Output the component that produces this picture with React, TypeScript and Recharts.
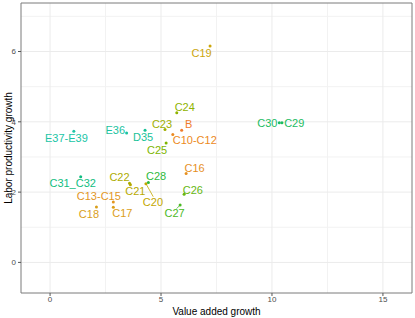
import React from 'react';
import { ScatterChart, Scatter, XAxis, YAxis, CartesianGrid, ReferenceArea, Label } from 'recharts';

// industries (NACE codes) with growth rates
const SECTORS = ['B', 'C10-C12', 'C13-C15', 'C16', 'C17', 'C18', 'C19', 'C20', 'C21', 'C22', 'C23', 'C24', 'C25', 'C26', 'C27', 'C28', 'C29', 'C30', 'C31_C32', 'D35', 'E36', 'E37-E39'];
const VALUE_ADDED = [5.93, 5.53, 2.85, 6.13, 2.85, 2.09, 7.21, 4.32, 3.62, 3.58, 5.18, 5.71, 5.23, 6.04, 5.86, 4.43, 10.45, 10.33, 1.38, 4.28, 3.45, 1.07];
const PRODUCTIVITY = [3.76, 3.64, 1.72, 2.53, 1.57, 1.58, 6.16, 2.24, 2.21, 2.25, 3.78, 4.26, 3.40, 1.94, 1.63, 2.27, 3.97, 3.97, 2.44, 3.76, 3.68, 3.73];

const X_TICKS = [0, 5, 10, 15];
const Y_TICKS = [0, 2, 4, 6];
const X_MINOR = [2.5, 7.5, 12.5];
const Y_MINOR = [1, 3, 5, 7];
const X_DOMAIN: [number, number] = [-1.31, 16.31];
const Y_DOMAIN: [number, number] = [-0.87, 7.38];

// hue per sector
const COLORS: Record<string, string> = {
  'B': '#F07C2C',
  'C10-C12': '#EC8A22',
  'C13-C15': '#E2961E',
  'C16': '#E6901F',
  'C17': '#DC9E18',
  'C18': '#D99E1A',
  'C19': '#CCA60C',
  'C20': '#C3A700',
  'C21': '#B8A900',
  'C22': '#ADAC00',
  'C23': '#A0AF00',
  'C24': '#8FB300',
  'C25': '#7DB500',
  'C26': '#67B712',
  'C27': '#4BB926',
  'C28': '#2EBA3C',
  'C29': '#1CBC5F',
  'C30': '#1CBC5F',
  'C31_C32': '#10BD80',
  'D35': '#17C297',
  'E36': '#1CC39F',
  'E37-E39': '#20C5A6',
};

// repelled label placement (offset from point, optional segment end)
const LABEL_POS: Record<string, number[]> = {
  'B': [7, -6],
  'C10-C12': [22, 6],
  'C13-C15': [-14.5, -5.7],
  'C16': [8.5, -5],
  'C17': [9, 6],
  'C18': [-7.5, 6.7],
  'C19': [-8.5, 7],
  'C20': [7, 18.6, 7.3, 13],
  'C21': [5, 6.3],
  'C22': [-10, -6],
  'C23': [-3, -6],
  'C24': [8, -6],
  'C25': [-9, 7],
  'C26': [8.7, -4.7],
  'C27': [-5.5, 8.3, -3.5, 3.5],
  'C28': [7.7, -6.7],
  'C29': [12.3, 0],
  'C30': [-12, 0],
  'C31_C32': [-8, 6.7],
  'D35': [-2, 6.5],
  'E36': [-11.4, -3.4],
  'E37-E39': [-7.4, 6.3],
};

const data = SECTORS.map((s, i) => ({ sector: s, va: VALUE_ADDED[i], lp: PRODUCTIVITY[i] }));

const FONT = '"Liberation Sans", Arial, Helvetica, sans-serif';

const PointWithLabel = (props: any) => {
  const { cx, cy, payload } = props;
  if (cx == null || cy == null) return null;
  const color = COLORS[payload.sector];
  const pos = LABEL_POS[payload.sector] || [0, -8];
  return (
    <g>
      <circle cx={cx} cy={cy} r={1.5} fill={color} />
      {pos.length > 2 && (
        <line x1={cx} y1={cy} x2={cx + pos[2]} y2={cy + pos[3]} stroke={color} strokeWidth={0.8} />
      )}
      <text x={cx + pos[0]} y={cy + pos[1]} fill={color} fontSize={11} fontFamily={FONT} textAnchor="middle" dominantBaseline="central">
        {payload.sector}
      </text>
    </g>
  );
};

const YTitle = (props: any) => {
  const vb = props.viewBox || { x: 0, y: 0, height: 0 };
  const x = 8;
  const y = vb.y + vb.height / 2;
  return (
    <text x={x} y={y} transform={`rotate(-90, ${x}, ${y})`} textAnchor="middle" dominantBaseline="central" fontSize={10} fontFamily={FONT} fill="#000">
      Labor productivity growth
    </text>
  );
};

export default function App() {
  return (
    <div style={{ position: 'absolute', left: 0, top: 0, width: 415, height: 318, background: '#fff' }}>
      <ScatterChart width={415} height={318} margin={{ top: 3, right: 3, left: 0, bottom: 0 }}>
        <CartesianGrid stroke="#F2F2F2" verticalValues={X_MINOR} horizontalValues={Y_MINOR} />
        <CartesianGrid stroke="#EBEBEB" verticalValues={X_TICKS} horizontalValues={Y_TICKS} />
        <XAxis
          type="number"
          dataKey="va"
          domain={X_DOMAIN}
          ticks={X_TICKS}
          allowDataOverflow
          height={25}
          axisLine={false}
          tickLine={{ stroke: '#555' }}
          tickSize={3}
          tickMargin={0}
          tick={{ fontSize: 8, fill: '#4D4D4D', fontFamily: FONT }}
        >
          <Label value="Value added growth" position="insideBottom" offset={3} fontSize={10} fill="#000" fontFamily={FONT} />
        </XAxis>
        <YAxis
          type="number"
          dataKey="lp"
          domain={Y_DOMAIN}
          ticks={Y_TICKS}
          allowDataOverflow
          width={21}
          axisLine={false}
          tickLine={{ stroke: '#555' }}
          tickSize={3}
          tickMargin={2}
          tick={{ fontSize: 8, fill: '#4D4D4D', fontFamily: FONT }}
        >
          <Label content={<YTitle />} />
        </YAxis>
        <ReferenceArea x1={X_DOMAIN[0]} x2={X_DOMAIN[1]} y1={Y_DOMAIN[0]} y2={Y_DOMAIN[1]} fill="none" stroke="#7A7A7A" strokeWidth={1} ifOverflow="visible" />
        <Scatter data={data} shape={PointWithLabel} isAnimationActive={false} />
      </ScatterChart>
    </div>
  );
}
